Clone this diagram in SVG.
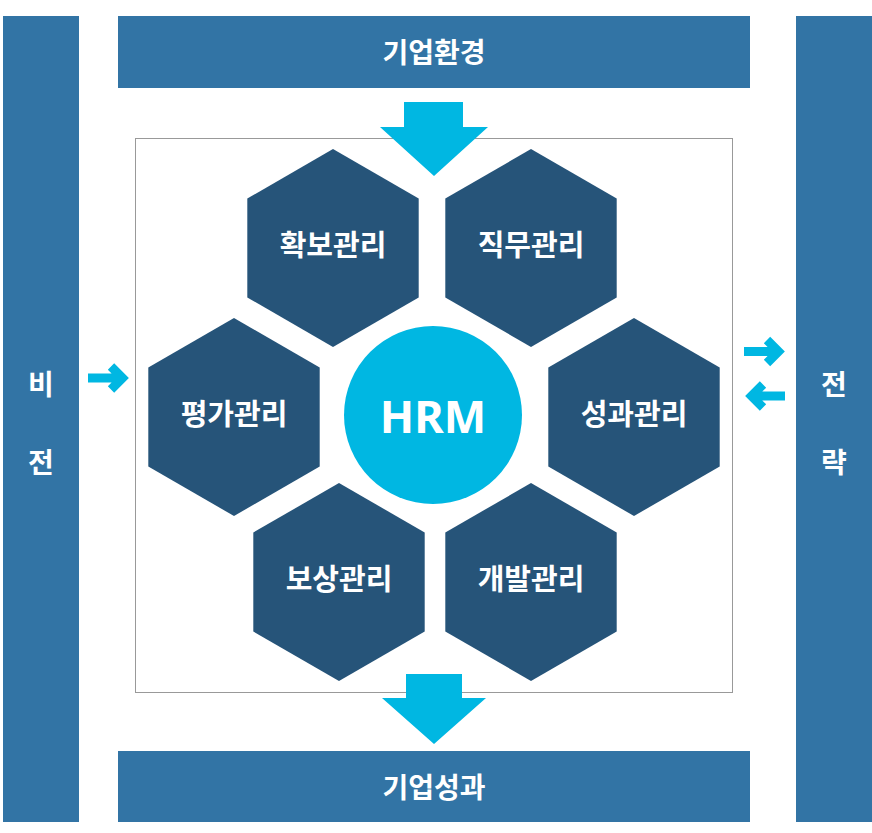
<svg xmlns="http://www.w3.org/2000/svg" width="872" height="833" viewBox="0 0 872 833">
<defs>
<style>
.bar{fill:#3274a5}
.hex{fill:#265479}
.cyan{fill:#00b7e2}
.t{font-family:"Noto Sans CJK KR","Noto Sans",sans-serif;font-weight:bold;fill:#fff;text-anchor:middle}
.bt{font-size:28px}
.ht{font-size:29px}
.arr{fill:none;stroke:#00b7e2;stroke-width:9;stroke-linejoin:miter;stroke-linecap:butt}
</style>
<polygon id="hexshape" points="0,-99 85.7,-49.5 85.7,49.5 0,99 -85.7,49.5 -85.7,-49.5"/>
</defs>
<rect width="872" height="833" fill="#fff"/>
<rect x="135.5" y="138.5" width="597" height="554" fill="none" stroke="#999" stroke-width="1"/>
<g id="vision"><rect class="bar" x="3" y="16" width="76" height="806"/>
<text class="t bt" x="41" y="395">비</text><text class="t bt" x="41" y="473">전</text></g>
<g id="strategy"><rect class="bar" x="796" y="16" width="76" height="806"/>
<text class="t bt" x="834" y="395">전</text><text class="t bt" x="834" y="473">략</text></g>
<g id="environment"><rect class="bar" x="118" y="16" width="632" height="72"/>
<text class="t bt" x="434" y="63">기업환경</text></g>
<g id="performance"><rect class="bar" x="118" y="751" width="632" height="71"/>
<text class="t bt" x="434" y="798">기업성과</text></g>
<g id="hrm"><circle class="cyan" cx="433" cy="415" r="89"/>
<text class="t" style="font-size:45px;font-family:'Noto Sans',sans-serif" x="433" y="433">HRM</text></g>
<g id="n1"><use href="#hexshape" class="hex" x="333" y="248"/><text class="t ht" x="333" y="256">확보관리</text></g>
<g id="n2"><use href="#hexshape" class="hex" x="531" y="248"/><text class="t ht" x="531" y="256">직무관리</text></g>
<g id="n3"><use href="#hexshape" class="hex" x="234" y="417"/><text class="t ht" x="234" y="425">평가관리</text></g>
<g id="n4"><use href="#hexshape" class="hex" x="634" y="417"/><text class="t ht" x="634" y="425">성과관리</text></g>
<g id="n5"><use href="#hexshape" class="hex" x="339" y="582"/><text class="t ht" x="339" y="590">보상관리</text></g>
<g id="n6"><use href="#hexshape" class="hex" x="531" y="582"/><text class="t ht" x="531" y="590">개발관리</text></g>
<g id="connectors">
<polygon class="cyan" points="404,102 463,102 463,127 488,127 434,176 380,127 404,127"/>
<polygon class="cyan" points="406,674 462,674 462,698 486,698 434,744 382,698 406,698"/>
<path class="arr" d="M88 378H119M111 366.5L122.5 378L111 389.5"/>
<path class="arr" d="M744 351.5H775M767 340L778.5 351.5L767 363"/>
<path class="arr" d="M785 396H755M763 384.5L751.5 396L763 407.5"/>
</g>
</svg>
